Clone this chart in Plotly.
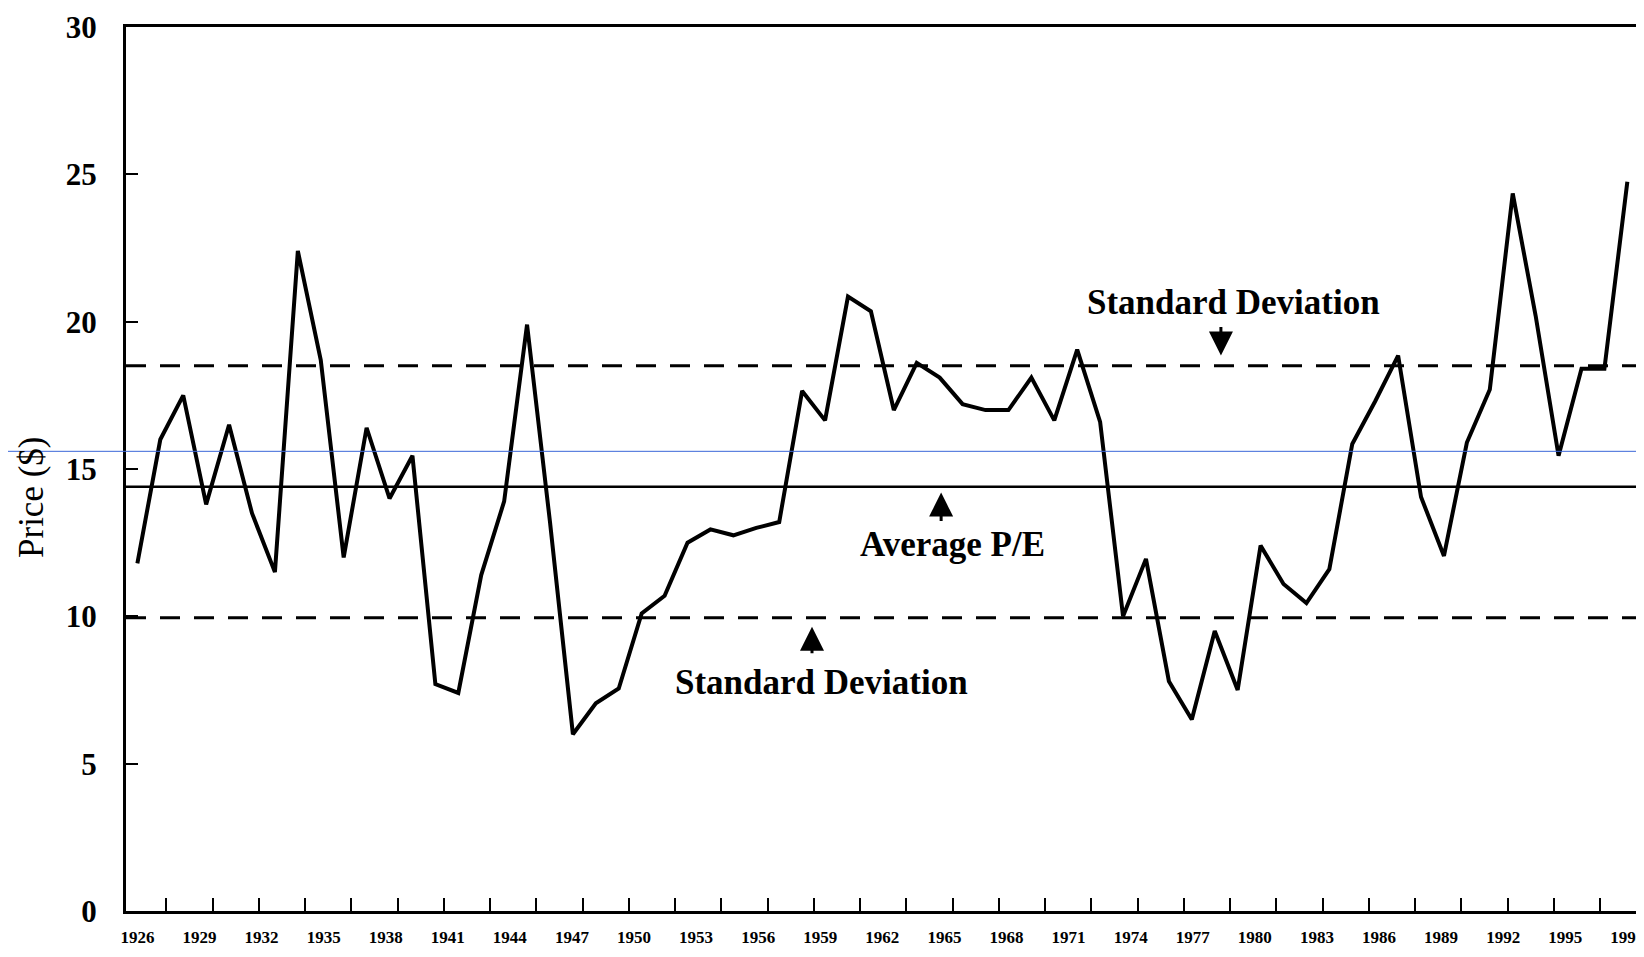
import numpy as np
import plotly.graph_objects as go

# ---- data ----
pe_values = [11.8, 16.0, 17.5, 13.8, 16.5, 13.5, 11.5, 22.4, 18.7, 12.0,
             16.4, 14.0, 15.45, 7.7, 7.4, 11.4, 13.9, 19.9, 13.2, 6.0,
             7.05, 7.55, 10.1, 10.7, 12.5, 12.95, 12.75, 13.0, 13.2, 17.65,
             16.65, 20.85, 20.35, 17.0, 18.6, 18.1, 17.2, 17.0, 17.0, 18.1,
             16.65, 19.05, 16.6, 10.0, 11.95, 7.8, 6.5, 9.5, 7.5, 12.4,
             11.1, 10.45, 11.6, 15.85, 17.3, 18.85, 14.05, 12.05, 15.9, 17.7,
             24.35, 20.2, 15.45, 18.4, 18.4, 24.75]
first_year = 1926
last_year = 1998
tick_years = list(range(1926, 1999, 3))
y_ticks = [0, 5, 10, 15, 20, 25, 30]

average_pe = 14.4
upper_sd = 18.5
lower_sd = 9.95
scan_line_level = 15.6

# the series is drawn evenly across the labelled span of years
x_pos = np.linspace(first_year, last_year, len(pe_values))

SERIF = "Liberation Serif"

fig = go.Figure()

fig.add_trace(go.Scatter(
    x=x_pos, y=pe_values, mode="lines",
    line=dict(color="black", width=4), showlegend=False,
    hoverinfo="skip"))

# reference lines
fig.add_hline(y=average_pe, line=dict(color="black", width=2.5))
fig.add_hline(y=upper_sd, line=dict(color="black", width=3, dash="20px,14px"))
fig.add_hline(y=lower_sd, line=dict(color="black", width=3, dash="20px,14px"))

# thin blue scan line running across the whole page
fig.add_shape(type="line", xref="paper", yref="y",
              x0=-0.09, x1=1.0, y0=scan_line_level, y1=scan_line_level,
              line=dict(color="#3a66d8", width=1))

# annotations (labels + arrows)
text_font = dict(family=SERIF, size=35, color="black", weight="bold")
labels = [
    ("Standard Deviation", 1978.98, 20.65),
    ("Average P/E", 1965.37, 12.45),
    ("Standard Deviation", 1959.06, 7.76),
]
for txt, xx, yy in labels:
    fig.add_annotation(x=xx, y=yy, text=txt, showarrow=False,
                       font=text_font, xanchor="center", yanchor="middle")

arrows = [
    (1978.36, 18.85, -30),   # points down to upper SD
    (1964.84, 14.2, 30),     # points up to average
    (1958.6, 9.65, 28),      # points up to lower SD
]
for xx, yy, ay in arrows:
    fig.add_annotation(x=xx, y=yy, ax=0, ay=ay, text="", showarrow=True,
                       arrowhead=2, arrowsize=1.6, arrowwidth=3,
                       arrowcolor="black", xref="x", yref="y")

# y-axis title
fig.add_annotation(xref="paper", yref="paper", x=-0.062, y=0.468,
                   text="Price ($)", textangle=-90, showarrow=False,
                   font=dict(family=SERIF, size=35, color="black"),
                   xanchor="center", yanchor="middle")

fig.update_xaxes(
    range=[1925.45, 1998.95],
    tickmode="array", tickvals=tick_years, ticktext=[str(t) for t in tick_years],
    ticks="", showgrid=False, zeroline=False,
    showline=True, linecolor="black", linewidth=3, mirror=True,
    tickfont=dict(family=SERIF, size=17, color="black", weight="bold"),
    ticklabelstandoff=9, ticklabeloverflow="allow",
    minor=dict(tickmode="linear", tick0=1927.4, dtick=2.235, ticks="inside",
               ticklen=13, tickwidth=2, tickcolor="black", showgrid=False),
)
fig.update_yaxes(
    range=[0, 30], tickmode="array", tickvals=y_ticks,
    ticks="inside", ticklen=12, tickwidth=2, tickcolor="black",
    showgrid=False, zeroline=False,
    showline=True, linecolor="black", linewidth=3, mirror=True,
    tickfont=dict(family=SERIF, size=31, color="black", weight="bold"),
    ticklabelstandoff=20, ticklabeloverflow="allow",
)

fig.update_layout(
    width=1644, height=957,
    margin=dict(l=118, r=2, t=16, b=54),
    paper_bgcolor="white", plot_bgcolor="white",
    font=dict(family=SERIF, color="black"),
    showlegend=False,
)

fig.write_html("out.html")
